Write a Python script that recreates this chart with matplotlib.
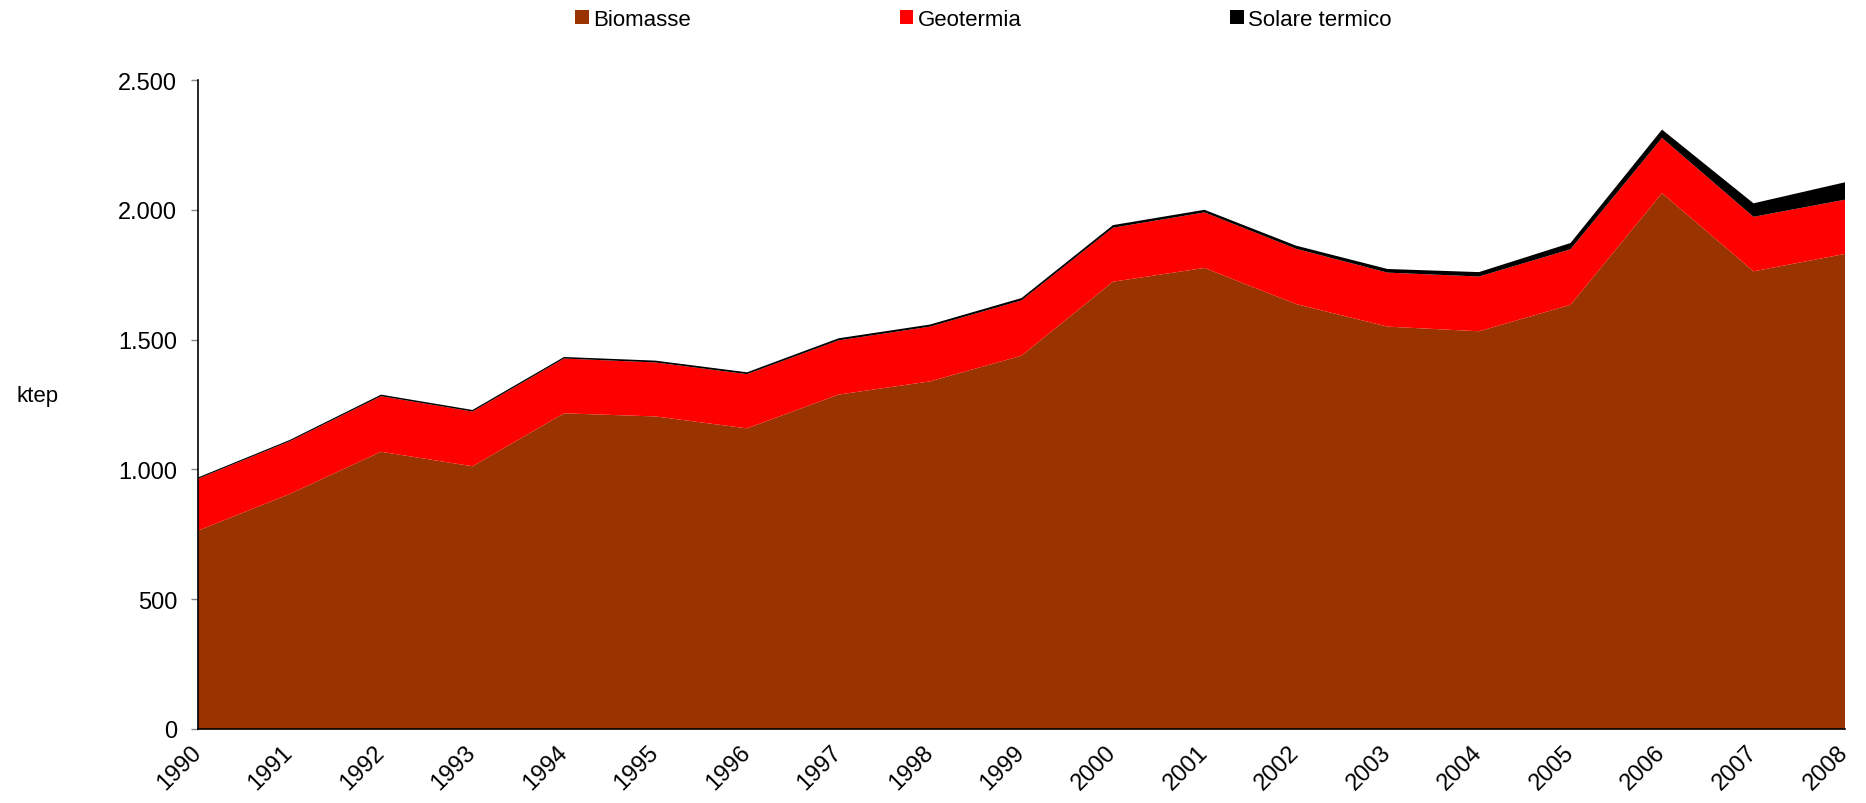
import matplotlib
matplotlib.use("Agg")
import matplotlib.pyplot as plt
from matplotlib.patches import Patch
from matplotlib.ticker import FuncFormatter

plt.rcParams['font.family'] = ['Liberation Sans', 'DejaVu Sans']

years = list(range(1990, 2009))
biomasse = [764, 905, 1068, 1012, 1216, 1204, 1158, 1288, 1339, 1438,
            1723, 1776, 1637, 1550, 1532, 1634, 2064, 1763, 1830]
geotermia = [200, 203, 214, 211, 211, 208, 209, 209, 211, 213,
             208, 214, 213, 208, 211, 214, 213, 210, 209]
solare = [5, 5, 6, 6, 6, 7, 7, 8, 8, 9,
          10, 10, 12, 14, 17, 24, 32, 52, 67]
series_names = ['Biomasse', 'Geotermia', 'Solare termico']
colors = ['#993300', '#FF0000', '#000000']

fig = plt.figure(figsize=(18.66, 8.04), dpi=100)
ax = fig.add_axes([198/1866, 1-730/804, (1845-198)/1866, (730-81)/804])

ax.stackplot(years, biomasse, geotermia, solare, colors=colors, linewidth=0)

ax.set_xlim(1990, 2008)
ax.set_ylim(0, 2500)
ax.set_yticks([0, 500, 1000, 1500, 2000, 2500])
ax.yaxis.set_major_formatter(FuncFormatter(lambda v, p: f"{int(v):,}".replace(",", ".")))
ax.set_xticks(years)
ax.set_xticklabels([str(y) for y in years], rotation=45, ha='right', va='center',
                   rotation_mode='anchor')

ax.tick_params(axis='y', length=5, color='#888888', labelsize=17, pad=10, width=1)
ax.tick_params(axis='x', length=0, labelsize=17, pad=14)
for s in ['top', 'right']:
    ax.spines[s].set_visible(False)
ax.spines['left'].set_linewidth(1.2)
ax.spines['bottom'].set_linewidth(1.2)

fig.text(17/1866, 1-397/804, 'ktep', fontsize=16, ha='left', va='center')

handles = [Patch(facecolor=c, edgecolor='none') for c in colors]
fig.legend(handles, series_names, loc='center', bbox_to_anchor=(0.527, 1-20/804),
           ncol=3, frameon=False, fontsize=16, handlelength=0.6, handleheight=0.6,
           handletextpad=0.2, columnspacing=9.4)

fig.savefig('out.png', dpi=100)
